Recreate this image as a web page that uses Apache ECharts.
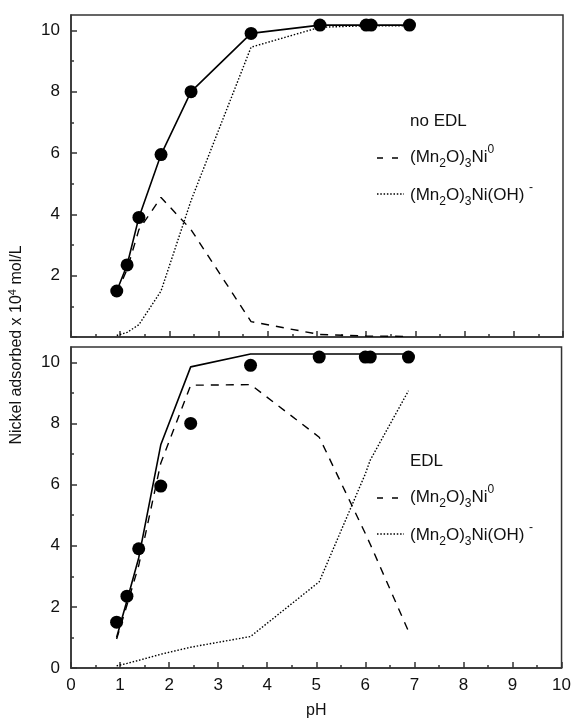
<!DOCTYPE html>
<html>
<head>
<meta charset="utf-8">
<script src="https://cdn.jsdelivr.net/npm/echarts@6/dist/echarts.min.js"></script>
<style>
  html, body { margin: 0; padding: 0; background: #fff; }
  #chart { width: 574px; height: 726px; }
</style>
</head>
<body>
<div id="chart"></div>
<script>
// pH of the measured points (model curves use the same pH values)
var ph = [0.93, 1.14, 1.38, 1.83, 2.44, 3.66, 5.06, 6.0, 6.1, 6.88];
// measured Ni adsorbed (x 10^4 mol/L)
var measured = [1.5, 2.35, 3.9, 5.95, 8.0, 9.9, 10.17, 10.17, 10.17, 10.17];

// no EDL model
var noEdlTotal = [1.5, 2.35, 3.9, 5.95, 8.0, 9.9, 10.17, 10.17, 10.17, 10.17];
var noEdlNi0 = [1.45, 2.2, 3.5, 4.55, 3.5, 0.5, 0.08, 0.03, 0.03, 0.02];
var noEdlNiOH = [0.05, 0.15, 0.4, 1.5, 4.45, 9.45, 10.1, 10.15, 10.15, 10.15];

// EDL model
var edlTotal = [1.0, 2.2, 3.6, 7.3, 9.85, 10.27, 10.27, 10.27, 10.27, 10.27];
var edlNi0 = [0.95, 2.05, 3.35, 6.7, 9.25, 9.27, 7.55, 4.4, 4.05, 1.2];
var edlNiOH = [0.07, 0.15, 0.25, 0.45, 0.68, 1.03, 2.82, 6.35, 6.8, 9.07];

var xTicks = [0, 1, 2, 3, 4, 5, 6, 7, 8, 9, 10];
var yMajor = [0, 2, 4, 6, 8, 10];
var yMinor = [1, 3, 5, 7, 9];

function pairs(xs, ys) {
	return xs.map(function (x, i) { return [x, ys[i]]; });
}

var font = 'Liberation Sans, Arial, sans-serif';
var axisColor = '#333';

function xAxisFor(grid, labels) {
	return {
		type: 'value', gridIndex: grid, min: xTicks[0], max: xTicks[xTicks.length - 1], interval: 1,
		axisLine: { show: true, lineStyle: { color: axisColor, width: 1.5 } },
		axisTick: { show: true, inside: true, length: 6, lineStyle: { color: axisColor, width: 1.5 } },
		minorTick: { show: true, splitNumber: 2, length: 3, lineStyle: { color: axisColor, width: 1.5 } },
		axisLabel: { show: labels, color: '#111', fontSize: 17, fontFamily: font, margin: 9 },
		splitLine: { show: false },
		name: labels ? 'pH' : '',
		nameLocation: 'middle', nameGap: 35,
		nameTextStyle: { color: '#111', fontSize: 16, fontFamily: font }
	};
}

function yAxesFor(grid, showZero) {
	return [{
		type: 'value', gridIndex: grid, position: 'left', min: 0, max: 10.5,
		axisLine: { show: true, lineStyle: { color: axisColor, width: 1.5 } },
		axisTick: { show: true, inside: true, length: 6, customValues: yMajor, lineStyle: { color: axisColor, width: 1.5 } },
		axisLabel: { show: true, customValues: showZero ? yMajor : yMajor.slice(1), color: '#111', fontSize: 17, fontFamily: font, margin: 11 },
		splitLine: { show: false }
	}, {
		type: 'value', gridIndex: grid, position: 'left', min: 0, max: 10.5,
		axisLine: { show: false },
		axisTick: { show: true, inside: true, length: 3, customValues: yMinor, lineStyle: { color: axisColor, width: 1.5 } },
		axisLabel: { show: false },
		splitLine: { show: false }
	}];
}

function modelSeries(xi, yi, data, dash, width) {
	return {
		type: 'line', xAxisIndex: xi, yAxisIndex: yi, data: data, symbol: 'none',
		silent: true, z: 2,
		lineStyle: { color: '#000', width: width, type: dash }
	};
}

function pointSeries(xi, yi) {
	return {
		type: 'scatter', xAxisIndex: xi, yAxisIndex: yi, data: pairs(ph, measured),
		symbol: 'circle', symbolSize: 13, z: 3,
		itemStyle: { color: '#000', opacity: 1 }
	};
}

var rich = {
	m: { fontSize: 17, fontFamily: font, lineHeight: 26, fill: '#111' },
	b: { fontSize: 12, fontFamily: font, lineHeight: 12, verticalAlign: 'bottom', fill: '#111' },
	t: { fontSize: 12, fontFamily: font, lineHeight: 20, verticalAlign: 'top', fill: '#111' }
};
var ni0Text = '{m|(Mn}{b|2}{m|O)}{b|3}{m|Ni}{t|0}';
var niOHText = '{m|(Mn}{b|2}{m|O)}{b|3}{m|Ni(OH)}{m| }{t|-}';

function legendGroup(title, top) {
	return [
		{ type: 'text', left: 410, top: top - 10, style: { text: title, fontSize: 17, fontFamily: font, fill: '#111' } },
		{ type: 'line', shape: { x1: 377, y1: top + 35, x2: 398, y2: top + 35 }, style: { stroke: '#000', lineWidth: 1.3, lineDash: [6, 9] } },
		{ type: 'text', x: 410, y: top + 34, style: { text: ni0Text, rich: rich, textVerticalAlign: 'middle', verticalAlign: 'middle' } },
		{ type: 'line', shape: { x1: 377, y1: top + 71, x2: 404, y2: top + 71 }, style: { stroke: '#000', lineWidth: 1.3, lineDash: [1.5, 1.8] } },
		{ type: 'text', x: 410, y: top + 72, style: { text: niOHText, rich: rich, textVerticalAlign: 'middle', verticalAlign: 'middle' } }
	];
}

var chart = echarts.init(document.getElementById('chart'));
var dashed = [8, 7];
var dotted = [1.5, 1.8];

chart.setOption({
	animation: false,
	backgroundColor: '#fff',
	grid: [
		{ left: 71, right: 11, top: 15, height: 322, show: true, borderColor: axisColor, borderWidth: 1.5 },
		{ left: 71, right: 11, top: 347, height: 321, show: true, borderColor: axisColor, borderWidth: 1.5 }
	],
	xAxis: [xAxisFor(0, false), xAxisFor(1, true)],
	yAxis: yAxesFor(0, false).concat(yAxesFor(1, true)),
	series: [
		modelSeries(0, 0, pairs(ph, noEdlTotal), 'solid', 1.6),
		modelSeries(0, 0, pairs(ph, noEdlNi0), dashed, 1.4),
		modelSeries(0, 0, pairs(ph, noEdlNiOH), dotted, 1.4),
		pointSeries(0, 0),
		modelSeries(1, 2, pairs(ph, edlTotal), 'solid', 1.6),
		modelSeries(1, 2, pairs(ph, edlNi0), dashed, 1.4),
		modelSeries(1, 2, pairs(ph, edlNiOH), dotted, 1.4),
		pointSeries(1, 2)
	],
	graphic: [
		{
			type: 'text', x: 17, y: 345, rotation: Math.PI / 2,
			style: {
				text: '{a|Nickel adsorbed x 10}{s|4}{a| mol/L}',
				textAlign: 'center', textVerticalAlign: 'middle', align: 'center', verticalAlign: 'middle',
				rich: {
					a: { fontSize: 16, fontFamily: font, lineHeight: 20, fill: '#111' },
					s: { fontSize: 11, fontFamily: font, lineHeight: 20, verticalAlign: 'top', fill: '#111' }
				}
			}
		}
	].concat(legendGroup('no EDL', 123), legendGroup('EDL', 463))
});
</script>
</body>
</html>
